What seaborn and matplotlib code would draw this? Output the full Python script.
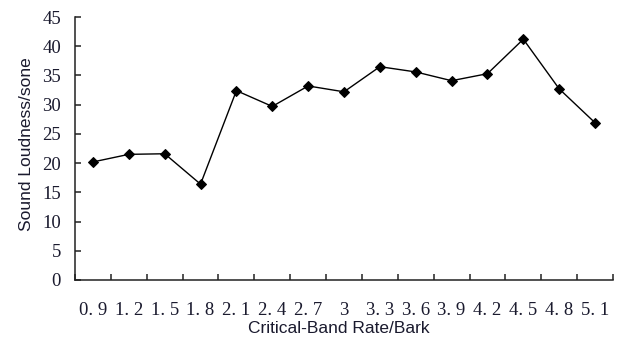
import matplotlib
matplotlib.use("Agg")
import matplotlib.pyplot as plt
import seaborn as sns
import pandas as pd
import numpy as np

categories = ["0.9", "1.2", "1.5", "1.8", "2.1", "2.4", "2.7", "3", "3.3",
              "3.6", "3.9", "4.2", "4.5", "4.8", "5.1"]
tick_labels = ["0. 9", "1. 2", "1. 5", "1. 8", "2. 1", "2. 4", "2. 7", "3", "3. 3",
               "3. 6", "3. 9", "4. 2", "4. 5", "4. 8", "5. 1"]
loudness = [20.2, 21.5, 21.6, 16.4, 32.4, 29.7, 33.2, 32.2, 36.5,
            35.6, 34.1, 35.3, 41.2, 32.7, 26.9]
y_ticks = [0, 5, 10, 15, 20, 25, 30, 35, 40, 45]

sns.set_style("white")
plt.rcParams['font.family'] = ['Liberation Serif', 'DejaVu Serif']

df = pd.DataFrame({"band": categories, "loud": loudness})

fig = plt.figure(figsize=(6.22, 3.37), dpi=100)
ax = fig.add_axes([75/622, 57/337, 538/622, 263/337])

sns.lineplot(data=df, x="band", y="loud", sort=False, ax=ax, color="black",
             linewidth=1.0, marker="D", markersize=5.5, markeredgecolor="black",
             markerfacecolor="black")

n = len(categories)
ax.set_xlim(-0.5, n - 0.5)
ax.set_ylim(0, 45)
ax.set_xticks(range(n))
ax.set_xticklabels(tick_labels, fontsize=13.5, fontfamily='Liberation Serif', color="#1a1a2e")
ax.set_xticks(np.arange(-0.5, n, 1.0), minor=True)
ax.tick_params(axis="x", which="both", bottom=True)
ax.tick_params(axis="x", which="major", length=0, pad=15.5)
ax.tick_params(axis="x", which="minor", direction="in", length=4, width=1.1, color="#222222")
ax.set_yticks(y_ticks)
ax.set_yticklabels([str(v) for v in y_ticks], fontsize=13.5, fontfamily='Liberation Serif', color="#1a1a2e")
ax.tick_params(axis="y", which="major", left=True, direction="in", length=4, width=1.1, color="#222222", pad=10)

for s in ["top", "right"]:
    ax.spines[s].set_visible(False)
for s in ["left", "bottom"]:
    ax.spines[s].set_linewidth(1.1)
    ax.spines[s].set_color("#222222")

ax.set_xlabel("Critical-Band Rate/Bark", fontsize=12.5, fontfamily=['Liberation Sans', 'DejaVu Sans'], color="#1a1a2e")
ax.set_ylabel("Sound Loudness/sone", fontsize=12.5, fontfamily=['Liberation Sans', 'DejaVu Sans'], color="#1a1a2e")
ax.xaxis.set_label_coords(0.491, -0.155)
ax.yaxis.set_label_coords(-0.077, 0.517)

fig.savefig("out.png", dpi=100)
